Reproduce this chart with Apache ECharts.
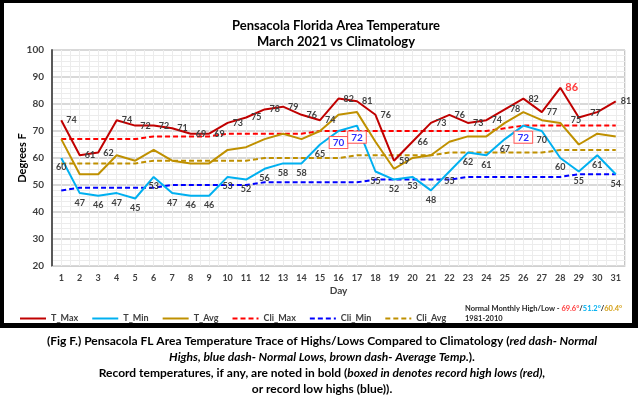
<!DOCTYPE html>
<html>
<head>
<meta charset="utf-8">
<script src="https://cdn.jsdelivr.net/npm/echarts@6/dist/echarts.min.js"></script>
<style>
  html, body { margin: 0; padding: 0; background: #fff; }
  #chart { width: 638px; height: 399px; }
</style>
</head>
<body>
<div id="chart"></div>
<script>
// March 2021, Pensacola FL
const days = ["1","2","3","4","5","6","7","8","9","10","11","12","13","14","15","16",
  "17","18","19","20","21","22","23","24","25","26","27","28","29","30","31"];
const tMax = [74,61,62,74,72,72,71,69,69,73,75,78,79,76,74,82,81,76,59,66,73,76,73,74,78,82,77,86,75,77,81];
const tMin = [60,47,46,47,45,53,47,46,46,53,52,56,58,58,65,70,72,55,52,53,48,55,62,61,67,72,70,60,55,61,54];
const tAvg = [67,54,54,61,59,63,59,58,58,63,64,67,69,67,70,76,77,66,56,60,61,66,68,68,73,77,74,73,65,69,68];
const cliMax = [67,67,67,67,67,68,68,68,68,69,69,69,69,69,70,70,70,70,70,70,70,70,70,70,71,72,72,72,72,72,72];
const cliMin = [48,49,49,49,49,49,50,50,50,50,50,51,51,51,51,51,51,52,52,52,52,52,53,53,53,53,53,53,54,54,54];
const cliAvg = [58,58,58,58,58,59,59,59,59,59,59,60,60,60,60,60,61,61,61,61,61,62,62,62,62,62,62,63,63,63,63];
// records (day numbers)
const recordHighDays = [28];
const recordHighLowDays = [16, 17, 26];
const normals = ["69.6°", "51.2°", "60.4°"];

const FONT = "Lato";
const labelBase = { fontFamily: FONT, fontSize: 9, fontWeight: "bold", color: "#404040" };

// a couple of labels sit on the point instead of beside it
const maxNudge = { 29: [-13, 3], 30: [-12, 1] };

const maxData = tMax.map((v, i) => {
  const d = { value: v };
  const day = i + 1;
  if (recordHighDays.includes(day)) d.label = { color: "#ff3b3b", fontSize: 11 };
  if (maxNudge[day]) d.label = Object.assign(d.label || {}, { offset: maxNudge[day] });
  return d;
});

const minData = tMin.map((v, i) => {
  const d = { value: v };
  if (recordHighLowDays.includes(i + 1)) {
    d.label = {
      color: "#3030ff", fontSize: 10, backgroundColor: "#fff",
      borderColor: "#ff5a5a", borderWidth: 1, padding: [1, 3, 0, 3], distance: 6
    };
  }
  return d;
});

function lineSeries(name, data, color, dashed, label) {
  return {
    name, type: "line", data, xAxisIndex: 0,
    symbol: "circle", symbolSize: 0.1, showSymbol: true, smooth: false, z: dashed ? 3 : 4,
    lineStyle: { color, width: 2, type: dashed ? [5, 3] : "solid" },
    itemStyle: { color },
    label: label || { show: false }
  };
}

const chart = echarts.init(document.getElementById("chart"));

chart.setOption({
  backgroundColor: "#fff",
  animation: false,
  title: {
    text: "Pensacola Florida Area Temperature\nMarch 2021 vs Climatology",
    left: 331, top: 13, textAlign: "center",
    textStyle: { fontFamily: FONT, fontSize: 13, fontWeight: "bold", color: "#000", lineHeight: 16 }
  },
  grid: { left: 52, right: 13, top: 50, bottom: 133, show: true, borderColor: "#8c8c8c", borderWidth: 1 },
  legend: {
    left: 14, top: 309, itemWidth: 26, itemHeight: 10, itemGap: 13,
    itemStyle: { opacity: 0 },
    textStyle: { fontFamily: FONT, fontSize: 9, fontWeight: "bold", color: "#404040" },
    data: ["T_Max", "T_Min", "T_Avg", "Cli_Max", "Cli_Min", "Cli_Avg"]
  },
  xAxis: [{
    type: "category", data: days, boundaryGap: true,
    name: "Day", nameLocation: "middle", nameGap: 20, nameMoveOverlap: false,
    nameTextStyle: { fontFamily: FONT, fontSize: 10, fontWeight: "bold", color: "#404040" },
    axisLine: { lineStyle: { color: "#d0d0d0" } },
    axisTick: { show: false },
    axisLabel: { fontFamily: FONT, fontSize: 9, fontWeight: "bold", color: "#404040", margin: 8 },
    splitLine: { show: false }
  }, {
    // only for the fine vertical grid
    type: "value", min: 0, max: 31, interval: 0.5, position: "bottom",
    axisLine: { show: false }, axisTick: { show: false }, axisLabel: { show: false },
    splitLine: { show: true, lineStyle: { color: "#ececec", width: 1 } }
  }],
  yAxis: {
    type: "value", min: 20, max: 100, interval: 10,
    name: "Degrees F", nameLocation: "middle", nameGap: 24, nameRotate: 90, nameMoveOverlap: false,
    nameTextStyle: { fontFamily: FONT, fontSize: 11, fontWeight: "bold", color: "#000" },
    axisLine: { show: true, lineStyle: { color: "#595959", width: 2 } },
    axisTick: { show: false },
    axisLabel: { fontFamily: FONT, fontSize: 10, fontWeight: "bold", color: "#404040", margin: 8 },
    splitLine: { lineStyle: { color: "#d9d9d9", width: 2 } },
    minorTick: { show: false, splitNumber: 5 },
    minorSplitLine: { show: true, lineStyle: { color: "#ececec", width: 1 } }
  },
  series: [
    lineSeries("T_Max", maxData, "#c00000", false,
      Object.assign({ show: true, position: "right", distance: 5 }, labelBase)),
    lineSeries("T_Min", minData, "#00b0f0", false,
      Object.assign({ show: true, position: "bottom", distance: 5 }, labelBase)),
    lineSeries("T_Avg", tAvg, "#bf9000", false),
    lineSeries("Cli_Max", cliMax, "#ff0000", true),
    lineSeries("Cli_Min", cliMin, "#0000ff", true),
    lineSeries("Cli_Avg", cliAvg, "#bf9000", true)
  ],
  graphic: [
    { type: "rect", shape: { x: 0, y: 0, width: 638, height: 3 }, style: { fill: "#000" } },
    { type: "rect", shape: { x: 0, y: 0, width: 4, height: 328 }, style: { fill: "#000" } },
    { type: "rect", shape: { x: 632, y: 0, width: 6, height: 328 }, style: { fill: "#000" } },
    { type: "rect", shape: { x: 0, y: 323, width: 638, height: 5 }, style: { fill: "#000" } },
    {
      type: "text", x: 465, y: 309,
      style: {
        text: "{k|Normal Monthly High/Low - }{r|" + normals[0] + "}{k|/}{b|" + normals[1] + "}{k|/}{g|" + normals[2] + "}",
        verticalAlign: "middle", textVerticalAlign: "middle",
        rich: {
          k: { fontFamily: FONT, fontSize: 7.5, fontWeight: "bold", fill: "#262626", color: "#262626" },
          r: { fontFamily: FONT, fontSize: 7.5, fontWeight: "bold", fill: "#ff3b3b", color: "#ff3b3b" },
          b: { fontFamily: FONT, fontSize: 7.5, fontWeight: "bold", fill: "#00b0f0", color: "#00b0f0" },
          g: { fontFamily: FONT, fontSize: 7.5, fontWeight: "bold", fill: "#d4a017", color: "#d4a017" }
        }
      }
    },
    {
      type: "text", x: 465, y: 319,
      style: { text: "1981-2010", verticalAlign: "middle", textVerticalAlign: "middle",
        font: "bold 7.5px " + FONT, fill: "#262626" }
    },
    caption(341, "{b|(Fig F.) Pensacola FL Area Temperature Trace of Highs/Lows Compared to Climatology (}{i|red dash- Normal}"),
    caption(357, "{i|Highs, blue dash- Normal Lows, brown dash- Average Temp.}{b|).}"),
    caption(373, "{b|Record temperatures, if any, are noted in bold (}{i|boxed in denotes record high lows (red),}"),
    caption(389, "{b|or record low highs (blue)).}")
  ]
});

function caption(y, text) {
  const st = { fontFamily: FONT, fontSize: 12, fontWeight: "bold", fill: "#000", color: "#000" };
  return {
    type: "text", x: 322, y,
    style: {
      text, align: "center", textAlign: "center", verticalAlign: "middle", textVerticalAlign: "middle",
      rich: { b: st, i: Object.assign({}, st, { fontStyle: "italic" }) }
    }
  };
}
</script>
</body>
</html>
